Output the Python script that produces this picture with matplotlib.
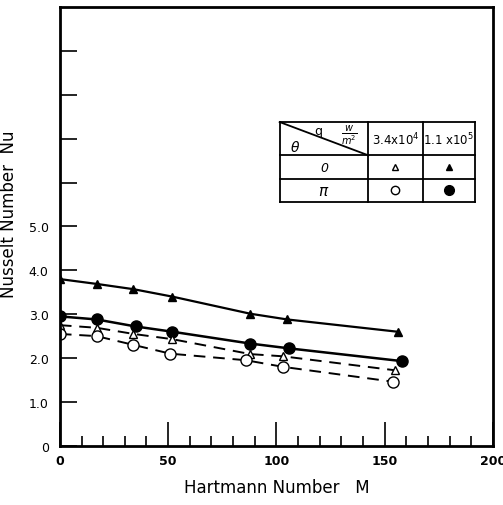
import matplotlib
matplotlib.use("Agg")
import matplotlib.pyplot as plt
from matplotlib.ticker import MultipleLocator, FixedLocator, FixedFormatter

# data (Hartmann number M vs Nusselt number Nu)
M_tri_f = [0, 17, 34, 52, 88, 105, 156]
Nu_tri_f = [3.80, 3.69, 3.57, 3.40, 3.01, 2.88, 2.60]     # theta=0, q=1.1e5

M_cir_f = [0, 17, 35, 52, 88, 106, 158]
Nu_cir_f = [2.95, 2.88, 2.72, 2.60, 2.33, 2.22, 1.93]     # theta=pi, q=1.1e5

M_tri_o = [0, 17, 34, 52, 88, 103, 155]
Nu_tri_o = [2.75, 2.69, 2.55, 2.43, 2.09, 2.04, 1.72]     # theta=0, q=3.4e4

M_cir_o = [0, 17, 34, 51, 86, 103, 154]
Nu_cir_o = [2.55, 2.50, 2.30, 2.10, 1.95, 1.80, 1.46]     # theta=pi, q=3.4e4

x_ticks = [0, 50, 100, 150, 200]
y_ticks = [0, 1, 2, 3, 4, 5, 6, 7, 8, 9]
y_labels = ["0", "1.0", "2.0", "3.0", "4.0", "5.0", "", "", "", ""]

fig = plt.figure(figsize=(5.03, 5.06), dpi=100)
ax = fig.add_axes([0.119, 0.117, 0.861, 0.867])

ax.plot(M_tri_f, Nu_tri_f, "k-", lw=1.6, marker="^", ms=5.5, mfc="k")
ax.plot(M_cir_f, Nu_cir_f, "k-", lw=1.8, marker="o", ms=8, mfc="k")
ax.plot(M_tri_o, Nu_tri_o, "k--", lw=1.4, dashes=(6, 4), marker="^", ms=5.5, mfc="white")
ax.plot(M_cir_o, Nu_cir_o, "k--", lw=1.4, dashes=(6, 4), marker="o", ms=8, mfc="white")

ax.set_xlim(0, 200)
ax.set_ylim(0, 10)
ax.xaxis.set_major_locator(FixedLocator(x_ticks))
ax.xaxis.set_minor_locator(MultipleLocator(10))
ax.yaxis.set_major_locator(FixedLocator(y_ticks))
ax.yaxis.set_major_formatter(FixedFormatter(y_labels))
ax.tick_params(axis="x", which="major", direction="in", length=17, width=1.2, labelsize=9, pad=6)
ax.tick_params(axis="x", which="minor", direction="in", length=7, width=1.2)
ax.tick_params(axis="y", direction="in", length=12, width=1.2, labelsize=9, pad=8)
ax.tick_params(top=False, right=False)
for lab in ax.get_xticklabels():
    lab.set_fontweight("bold")
for s in ax.spines.values():
    s.set_linewidth(2)

ax.set_xlabel("Hartmann Number   M", fontsize=12, labelpad=8)
ax.set_ylabel("Nusselt Number  Nu", fontsize=12)
ax.yaxis.set_label_coords(-0.097, 0.53)

# legend table in the upper right
x0, x1, x2, x3 = 101.5, 142.5, 167.5, 191.5
y0, y1, y2, y3 = 7.38, 6.62, 6.08, 5.56
kw = dict(color="k", lw=1.3)
for y in (y0, y1, y2, y3):
    ax.plot([x0, x3], [y, y], **kw)
for x in (x0, x1, x2, x3):
    ax.plot([x, x], [y0, y3], **kw)
ax.plot([x0, x1], [y0, y1], **kw)
ax.text(x0 + 7, y1 + 0.2, r"$\theta$", fontsize=10, ha="center", va="center")
ax.text(x0 + 18, y0 - 0.2, "q", fontsize=9, ha="center", va="center")
ax.text(x0 + 32, y0 - 0.28, r"$\frac{w}{m^2}$", fontsize=10, ha="center", va="center")
ax.text((x1 + x2) / 2, (y0 + y1) / 2, r"3.4x10$^4$", fontsize=8.5, ha="center", va="center")
ax.text((x2 + x3) / 2, (y0 + y1) / 2, r"1.1 x10$^5$", fontsize=8.5, ha="center", va="center")
ax.text((x0 + x1) / 2, (y1 + y2) / 2, "0", fontsize=9, ha="center", va="center", style="italic")
ax.text((x0 + x1) / 2, (y2 + y3) / 2, r"$\pi$", fontsize=11, ha="center", va="center")
ax.plot((x1 + x2) / 2, (y1 + y2) / 2, "k^", mfc="white", ms=5)
ax.plot((x2 + x3) / 2, (y1 + y2) / 2, "k^", ms=5)
ax.plot((x1 + x2) / 2, (y2 + y3) / 2, "ko", mfc="white", ms=6)
ax.plot((x2 + x3) / 2, (y2 + y3) / 2, "ko", ms=7)

fig.savefig("out.png", dpi=100)
